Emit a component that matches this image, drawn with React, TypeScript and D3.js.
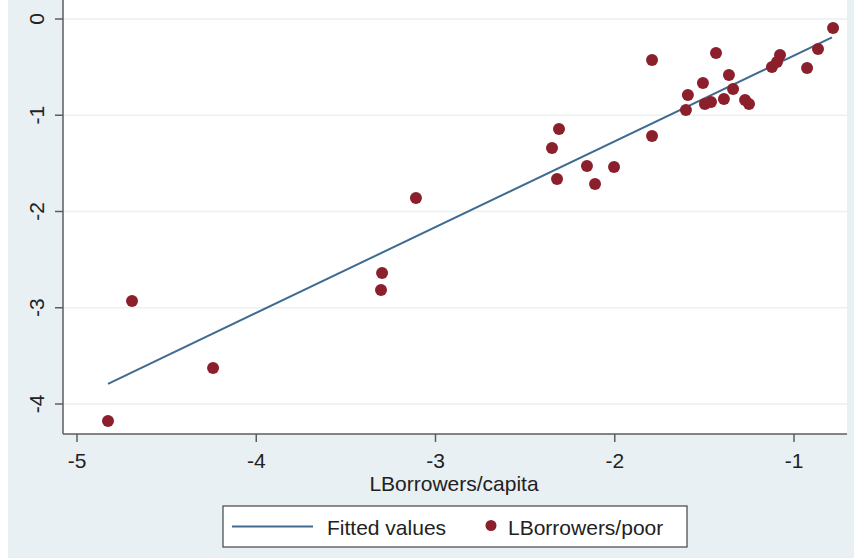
import React from "react";
import * as d3 from "d3";

// Scatter data: LBorrowers/capita (x) vs LBorrowers/poor (y)
const borrowersPerCapita = [
  -4.827, -4.693, -4.241, -3.298, -3.304, -3.109, -2.35, -2.311, -2.322, -2.155,
  -2.11, -2.004, -1.792, -1.792, -1.603, -1.592, -1.508, -1.497, -1.463, -1.435,
  -1.391, -1.363, -1.34, -1.273, -1.251, -1.123, -1.095, -1.078, -0.927, -0.866,
  -0.782,
];
const borrowersPerPoor = [
  -4.177, -2.93, -3.626, -2.639, -2.816, -1.86, -1.34, -1.143, -1.662, -1.527,
  -1.714, -1.538, -1.216, -0.426, -0.945, -0.79, -0.665, -0.883, -0.862, -0.353,
  -0.831, -0.582, -0.727, -0.842, -0.883, -0.499, -0.447, -0.374, -0.509, -0.312,
  -0.094,
];

// Fitted values at the ends of the x range
const fittedX = [-4.827, -0.788];
const fittedY = [-3.79, -0.19];

const xTicks = [-5, -4, -3, -2, -1];
const yTicks = [0, -1, -2, -3, -4];

const xTitle = "LBorrowers/capita";
const legendLabels = ["Fitted values", "LBorrowers/poor"];

const W = 854;
const H = 558;
const plot = { left: 63, right: 847, top: 0, bottom: 434 };

const FONT = "'Liberation Sans', Arial, Helvetica, sans-serif";
const FS = 21;
const BG = "#e8f0f3";
const GRID = "#e9f1f3";
const AXIS = "#5c5c5c";
const LINE = "#3f6b90";
const DOT = "#8c1f2c";
const TEXT = "#222222";

export default function App() {
  const x = d3
    .scaleLinear()
    .domain([-5 - 14 / 179.25, -5 + 770 / 179.25])
    .range([plot.left, plot.right]);
  const y = d3
    .scaleLinear()
    .domain([19 / 96.25, -415 / 96.25])
    .range([plot.top, plot.bottom]);

  const points = borrowersPerCapita.map((v, i) => ({ x: v, y: borrowersPerPoor[i] }));
  const fitted = fittedX.map((v, i) => [x(v), y(fittedY[i])] as [number, number]);
  const linePath = d3.line()(fitted) || "";

  const legend = { x: 223, y: 506, w: 464, h: 41 };
  const legendMid = legend.y + legend.h / 2;

  return (
    <svg
      width={W}
      height={H}
      style={{ position: "absolute", left: 0, top: 0 }}
      fontFamily={FONT}
    >
      <rect x={0} y={0} width={W} height={H} fill="#ffffff" />
      <rect x={8} y={0} width={W - 8} height={H} fill={BG} />
      <rect
        x={plot.left}
        y={plot.top}
        width={plot.right - plot.left}
        height={plot.bottom - plot.top}
        fill="#ffffff"
      />

      {/* horizontal grid */}
      {yTicks.map((t) => (
        <line
          key={`g${t}`}
          x1={plot.left}
          x2={plot.right}
          y1={y(t)}
          y2={y(t)}
          stroke={GRID}
          strokeWidth={1.5}
        />
      ))}

      {/* fitted line */}
      <path d={linePath} fill="none" stroke={LINE} strokeWidth={2} />

      {/* scatter points */}
      {points.map((p, i) => (
        <circle key={i} cx={x(p.x)} cy={y(p.y)} r={6} fill={DOT} />
      ))}

      {/* axes */}
      <line x1={plot.left} x2={plot.left} y1={plot.top} y2={plot.bottom} stroke={AXIS} strokeWidth={1.5} />
      <line x1={plot.left} x2={plot.right} y1={plot.bottom} y2={plot.bottom} stroke={AXIS} strokeWidth={1.5} />

      {yTicks.map((t) => (
        <g key={`y${t}`}>
          <line x1={plot.left - 8} x2={plot.left} y1={y(t)} y2={y(t)} stroke={AXIS} strokeWidth={1.5} />
          <text
            transform={`translate(44,${y(t)}) rotate(-90)`}
            textAnchor="middle"
            fontSize={FS}
            fill={TEXT}
          >
            {t}
          </text>
        </g>
      ))}

      {xTicks.map((t) => (
        <g key={`x${t}`}>
          <line x1={x(t)} x2={x(t)} y1={plot.bottom} y2={plot.bottom + 8} stroke={AXIS} strokeWidth={1.5} />
          <text x={x(t)} y={468} textAnchor="middle" fontSize={FS} fill={TEXT}>
            {t}
          </text>
        </g>
      ))}

      <text x={454} y={491} textAnchor="middle" fontSize={FS} fill={TEXT}>
        {xTitle}
      </text>

      {/* legend */}
      <rect
        x={legend.x}
        y={legend.y}
        width={legend.w}
        height={legend.h}
        fill="#ffffff"
        stroke="#444"
        strokeWidth={1.2}
      />
      <line x1={232} x2={313} y1={legendMid} y2={legendMid} stroke={LINE} strokeWidth={2} />
      <text x={327} y={535} fontSize={FS} fill={TEXT}>
        {legendLabels[0]}
      </text>
      <circle cx={491} cy={legendMid - 1} r={5.5} fill={DOT} />
      <text x={508} y={535} fontSize={FS} fill={TEXT}>
        {legendLabels[1]}
      </text>
    </svg>
  );
}
